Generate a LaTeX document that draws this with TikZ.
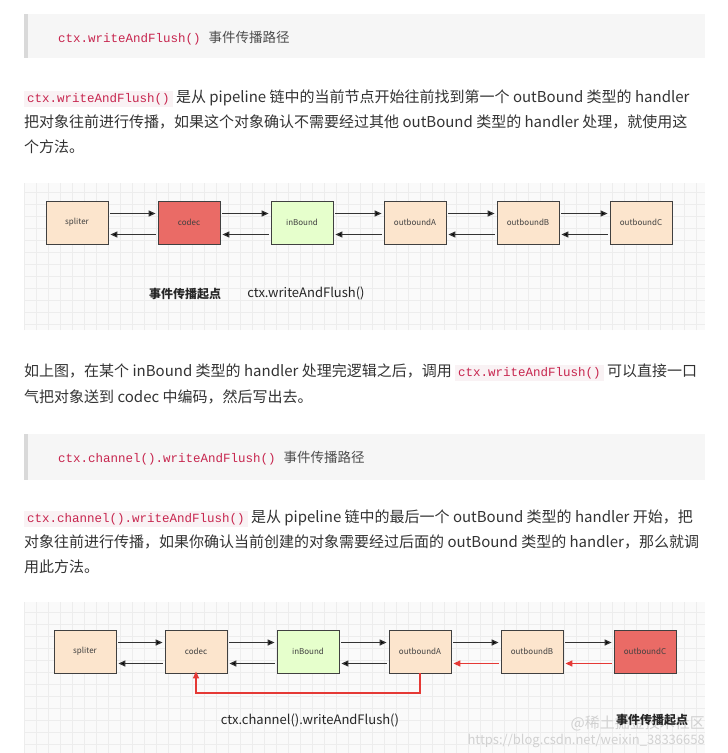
\documentclass[tikz,border=0pt]{standalone}
\usepackage{fontspec}
\setmainfont{Noto Sans CJK SC}
\setmonofont{Liberation Mono}
\usetikzlibrary{arrows.meta}
\definecolor{codered}{HTML}{C7254E}
\definecolor{codebg}{HTML}{F9F2F4}
\definecolor{quotebg}{HTML}{F6F6F6}
\definecolor{peach}{HTML}{FCE5CD}
\definecolor{redbox}{HTML}{EA6B66}
\definecolor{greenbox}{HTML}{E6FFCC}
\definecolor{txt}{HTML}{333333}
\definecolor{arr}{HTML}{333333}
\definecolor{redarr}{HTML}{E53935}
\newcommand{\cd}[1]{\tikz[baseline=(c.base)]\node[fill=codebg,inner xsep=3pt,inner ysep=2pt,text=codered,font=\ttfamily\fontsize{12.5}{14}\selectfont](c){#1};}
\tikzset{
 para/.style={anchor=base west,inner sep=0pt,text=txt,font=\fontsize{15}{17}\selectfont},
 qtext/.style={anchor=base west,inner sep=0pt,text=black!70,font=\fontsize{13.5}{16}\selectfont},
 hbox/.style={draw=black!75,line width=0.8pt,minimum width=62pt,minimum height=43pt,inner sep=0pt,font=\fontsize{8}{9}\selectfont,text=black!75},
 fw/.style={draw=arr,line width=1.2pt,-{Triangle[length=7pt,width=6pt]}},
 rw/.style={draw=redarr,line width=1.4pt,-{Triangle[length=7pt,width=6pt]}},
 lbl/.style={inner sep=0pt,font=\fontsize{11}{13}\selectfont,text=black!85},
}
\begin{document}
\begin{tikzpicture}[x=1pt,y=-1pt]
\useasboundingbox (0,0) rectangle (728,753);
\fill[white] (0,0) rectangle (728,753);
% quote 1
\fill[quotebg] (24,14) rectangle (705,58);
\fill[black!15] (24,14) rectangle (28,58);
\node[qtext] (q1) at (58,42) {{\ttfamily\fontsize{12.5}{14}\selectfont\color{codered}ctx.writeAndFlush()}\hspace{8pt}事件传播路径};
% para 1
\node[para] (p1a) at (24,102) {\cd{ctx.writeAndFlush()} 是从 pipeline 链中的当前节点开始往前找到第一个 outBound 类型的 handler};
\node[para] (p1b) at (24,127) {把对象往前进行传播，如果这个对象确认不需要经过其他 outBound 类型的 handler 处理，就使用这};
\node[para] (p1c) at (24,152) {个方法。};
% diagram 1 background
\begin{scope}
\clip (24,183) rectangle (705,330);
\fill[black!2] (24,183) rectangle (705,330);
\draw[black!7,line width=0.4pt,step=12pt] (24,183) grid (705,330);
\end{scope}
\node[hbox,fill=peach] (s1) at (77,222.5) {spliter};
\node[hbox,fill=redbox] (c1) at (189,222.5) {codec};
\node[hbox,fill=greenbox] (i1) at (302,222.5) {inBound};
\node[hbox,fill=peach] (a1) at (415,222.5) {outboundA};
\node[hbox,fill=peach] (b1) at (528,222.5) {outboundB};
\node[hbox,fill=peach] (o1) at (641,222.5) {outboundC};
\foreach \l/\r in {s1/c1,c1/i1,i1/a1,a1/b1,b1/o1}{
 \draw[fw] ([xshift=2pt,yshift=9pt]\l.east) -- ([xshift=-2pt,yshift=9pt]\r.west);
 \draw[fw] ([xshift=-2pt,yshift=-12pt]\r.west) -- ([xshift=2pt,yshift=-12pt]\l.east);
}
\node[lbl,font=\bfseries\fontsize{12}{14}\selectfont] (t1) at (185,294) {事件传播起点};
\node[lbl,font=\fontsize{13}{15}\selectfont] (t2) at (306,293) {ctx.writeAndFlush()};
% para 2
\node[para] (p2a) at (24,376) {如上图，在某个 inBound 类型的 handler 处理完逻辑之后，调用 \cd{ctx.writeAndFlush()} 可以直接一口};
\node[para] (p2b) at (24,402) {气把对象送到 codec 中编码，然后写出去。};
% quote 2
\fill[quotebg] (24,434) rectangle (705,480);
\fill[black!15] (24,434) rectangle (28,480);
\node[qtext] (q2) at (58,462) {{\ttfamily\fontsize{12.5}{14}\selectfont\color{codered}ctx.channel().writeAndFlush()}\hspace{8pt}事件传播路径};
% para 3
\node[para] (p3a) at (24,522) {\cd{ctx.channel().writeAndFlush()} 是从 pipeline 链中的最后一个 outBound 类型的 handler 开始，把};
\node[para] (p3b) at (24,547) {对象往前进行传播，如果你确认当前创建的对象需要经过后面的 outBound 类型的 handler，那么就调};
\node[para] (p3c) at (24,572) {用此方法。};
% diagram 2 background
\begin{scope}
\clip (24,602) rectangle (705,753);
\fill[black!2] (24,602) rectangle (705,753);
\draw[black!7,line width=0.4pt,step=12pt] (24,602) grid (705,753);
\end{scope}
\node[hbox,fill=peach] (s2) at (85,651.5) {spliter};
\node[hbox,fill=peach] (c2) at (196,651.5) {codec};
\node[hbox,fill=greenbox] (i2) at (308,651.5) {inBound};
\node[hbox,fill=peach] (a2) at (420,651.5) {outboundA};
\node[hbox,fill=peach] (b2) at (532,651.5) {outboundB};
\node[hbox,fill=redbox] (o2) at (645,651.5) {outboundC};
\foreach \l/\r in {s2/c2,c2/i2,i2/a2,a2/b2,b2/o2}{
 \draw[fw] ([xshift=2pt,yshift=9pt]\l.east) -- ([xshift=-2pt,yshift=9pt]\r.west);
}
\foreach \l/\r in {s2/c2,c2/i2,i2/a2}{
 \draw[fw] ([xshift=-2pt,yshift=-12pt]\r.west) -- ([xshift=2pt,yshift=-12pt]\l.east);
}
\foreach \l/\r in {a2/b2,b2/o2}{
 \draw[rw] ([xshift=-2pt,yshift=-12pt]\r.west) -- ([xshift=2pt,yshift=-12pt]\l.east);
}
\coordinate (r1) at (420,693);
\coordinate (r2) at (196,693);
\draw[rw] (a2.south) -- (r1) -- (r2) -- ([yshift=2pt]c2.south);
\node[lbl,font=\fontsize{13}{15}\selectfont] (t3) at (310,720) {ctx.channel().writeAndFlush()};
\node[lbl,anchor=east,text=black!18,font=\fontsize{15}{17}\selectfont] (w1) at (705,723) {@稀土掘金技术社区};
\node[lbl,anchor=east,text=black!18,font=\fontsize{13}{15}\selectfont] (w2) at (705,741) {https://blog.csdn.net/weixin\_38336658};
\node[lbl,font=\bfseries\fontsize{12}{14}\selectfont] (t4) at (652,720) {事件传播起点};
\end{tikzpicture}
\end{document}
